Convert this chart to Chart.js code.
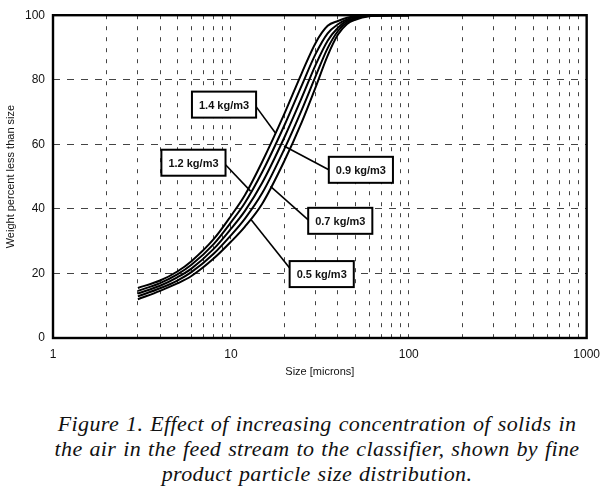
<!DOCTYPE html>
<html>
<head>
<meta charset="utf-8">
<script src="https://cdn.jsdelivr.net/npm/chart.js@4.4.0/dist/chart.umd.min.js"></script>
<style>
  html, body { margin: 0; padding: 0; background: #fff; }
  #wrap { position: relative; width: 609px; height: 499px; overflow: hidden; }
  #c { position: absolute; left: 0; top: 0; }
  #caption {
    position: absolute; left: 0; top: 411px; width: 634px;
    text-align: center; color: #111;
    font: italic 22px 'Liberation Serif', 'Times New Roman', serif; line-height: 25px;
    letter-spacing: 0.4px; word-spacing: 1px;
  }
</style>
</head>
<body>
<div id="wrap">
  <canvas id="c" width="609" height="390"></canvas>
  <div id="caption">Figure 1. Effect of increasing concentration of solids in<br>the air in the feed stream to the classifier, shown by fine<br>product particle size distribution.</div>
</div>
<script>
// particle size (microns) and cumulative weight % passing, one list per solids concentration
const sizes    = [3, 4, 5, 6, 8, 10, 12, 15, 20, 25, 30, 35, 40, 45, 50, 60, 80, 100];
const conc14   = [15.5, 17.8, 20.6, 23.8, 30.6, 37.8, 44.3, 54.6, 69.5, 82.0, 91.5, 96.7, 98.2, 99.2, 99.6, 99.9, 100, 100];
const conc12   = [14.6, 17.0, 19.7, 22.7, 29.1, 35.8, 41.9, 51.4, 65.9, 78.2, 88.1, 94.4, 97.2, 98.7, 99.4, 99.9, 100, 100];
const conc09   = [13.8, 16.2, 18.8, 21.5, 27.6, 33.8, 39.4, 48.1, 62.2, 74.4, 84.7, 92.1, 96.1, 98.3, 99.1, 99.8, 100, 100];
const conc07   = [12.9, 15.4, 17.8, 20.4, 26.1, 31.8, 37.0, 44.9, 58.6, 70.6, 81.2, 89.8, 95.1, 97.8, 98.9, 99.8, 100, 100];
const conc05   = [12.0, 14.6, 16.9, 19.2, 24.6, 29.8, 34.5, 41.6, 54.9, 66.8, 77.8, 87.5, 94.0, 97.3, 98.6, 99.7, 100, 100];
const concLabels = ['1.4 kg/m3', '1.2 kg/m3', '0.9 kg/m3', '0.7 kg/m3', '0.5 kg/m3'];

const xTicks  = [1,2,3,4,5,6,7,8,9,10,20,30,40,50,60,70,80,90,100,200,300,400,500,600,700,800,900,1000];
const xLabels = [1, 10, 100, 1000];
const yTicks  = [0, 20, 40, 60, 80, 100];

// callout boxes: box centre and the point on the curve the leader goes to (data units)
const callouts = [
  { text: concLabels[0], bx: 9.15, by: 72.3, tx: 17.8, ty: 63.5, side: 'r', dy: 2 },
  { text: concLabels[1], bx: 6.16, by: 54.3, tx: 12.9, ty: 45.5, side: 'r', dy: 2 },
  { text: concLabels[2], bx: 53.8, by: 52.1, tx: 19.9, ty: 59.5, side: 'l', dy: 0 },
  { text: concLabels[3], bx: 41.2, by: 36.3, tx: 16.7, ty: 47.0, side: 'l', dy: -1 },
  { text: concLabels[4], bx: 32.4, by: 19.8, tx: 12.9, ty: 36.9, side: 'l', dy: -6 }
];

const FONT = "'Liberation Sans', Arial, sans-serif";
const allConc = [conc14, conc12, conc09, conc07, conc05];

const calloutPlugin = {
  id: 'callouts',
  afterDatasetsDraw(chart) {
    const { ctx, chartArea: a, scales: { x, y } } = chart;
    ctx.save();
    // plot frame
    ctx.strokeStyle = '#000';
    ctx.lineWidth = 2.4;
    ctx.strokeRect(a.left, a.top, a.right - a.left, a.bottom - a.top);

    ctx.font = 'bold 11px ' + FONT;
    ctx.textAlign = 'center';
    ctx.textBaseline = 'middle';
    callouts.forEach(c => {
      const cx = x.getPixelForValue(c.bx), cy = y.getPixelForValue(c.by);
      const w = ctx.measureText(c.text).width + 14, h = 26;
      const sx = c.side === 'r' ? cx + w / 2 : cx - w / 2;
      ctx.lineWidth = 1.6;
      ctx.beginPath();
      ctx.moveTo(sx, cy + c.dy);
      ctx.lineTo(x.getPixelForValue(c.tx), y.getPixelForValue(c.ty));
      ctx.stroke();
      ctx.fillStyle = '#fff';
      ctx.fillRect(cx - w / 2, cy - h / 2, w, h);
      ctx.lineWidth = 2;
      ctx.strokeRect(cx - w / 2, cy - h / 2, w, h);
      ctx.fillStyle = '#111';
      ctx.fillText(c.text, cx, cy + 1);
    });
    ctx.restore();
  }
};

new Chart(document.getElementById('c'), {
  type: 'line',
  data: {
    datasets: allConc.map((vals, i) => ({
      label: concLabels[i],
      data: sizes.map((s, j) => ({ x: s, y: vals[j] })),
      borderColor: '#000', borderWidth: 2, pointRadius: 0,
      cubicInterpolationMode: 'monotone', fill: false
    }))
  },
  options: {
    responsive: false, animation: false, devicePixelRatio: 1,
    layout: { padding: { top: 10, right: 15, left: 0, bottom: 0 } },
    plugins: { legend: { display: false }, tooltip: { enabled: false } },
    scales: {
      x: {
        type: 'logarithmic', min: 1, max: 1000,
        afterBuildTicks: s => { s.ticks = xTicks.map(v => ({ value: v })); },
        afterFit: s => { s.height = 52; },
        ticks: {
          autoSkip: false, maxRotation: 0, padding: 9, color: '#111',
          font: { family: FONT, size: 12 },
          callback: v => xLabels.includes(v) ? String(v) : ''
        },
        grid: {
          drawTicks: false, lineWidth: 1,
          color: c => (c.tick && (c.tick.value === 1 || c.tick.value === 1000)) ? 'rgba(0,0,0,0)' : '#444'
        },
        border: { display: false, dash: [4, 7] },
        title: { display: true, text: 'Size [microns]', color: '#111', font: { family: FONT, size: 11 }, padding: { top: 0, bottom: 11 } }
      },
      y: {
        min: 0, max: 100,
        afterBuildTicks: s => { s.ticks = yTicks.map(v => ({ value: v })); },
        afterFit: s => { s.width = 53; },
        ticks: { padding: 8, color: '#111', font: { family: FONT, size: 12 } },
        grid: {
          drawTicks: false, lineWidth: 1,
          color: c => (c.tick && (c.tick.value === 0 || c.tick.value === 100)) ? 'rgba(0,0,0,0)' : '#444'
        },
        border: { display: false, dash: [7, 7] },
        title: { display: true, text: 'Weight percent less than size', color: '#111', font: { family: FONT, size: 11 }, padding: { top: 4, bottom: 4 } }
      }
    }
  },
  plugins: [calloutPlugin]
});
</script>
</body>
</html>
